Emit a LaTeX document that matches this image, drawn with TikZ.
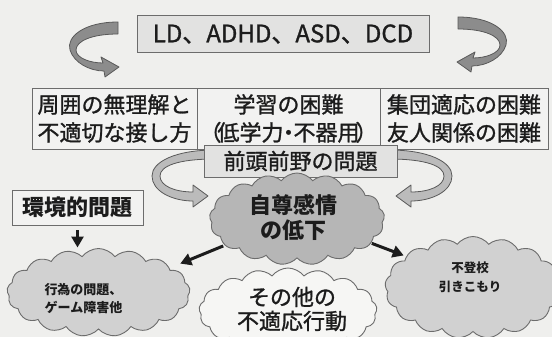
\documentclass[tikz,border=0pt]{standalone}
\usepackage{fontspec}
\setmainfont{Noto Sans CJK JP}
\newfontfamily\jpmid{Noto Sans CJK JP}[FakeBold=1.2]
\usetikzlibrary{arrows.meta,positioning,shapes.symbols}
\definecolor{paper}{HTML}{EFEFED}
\definecolor{boxfill}{HTML}{E2E2E1}
\definecolor{rowfill}{HTML}{F2F2F1}
\definecolor{ink}{HTML}{1C1C1C}
\definecolor{edge}{HTML}{6C6C6C}
\definecolor{cloudmid}{HTML}{B6B6B6}
\definecolor{cloudlight}{HTML}{D1D1D1}
\definecolor{cloudpale}{HTML}{F6F6F4}
\definecolor{ribbondark}{HTML}{8C8C8C}
\definecolor{ribbonlight}{HTML}{BBBBBB}

\begin{document}
\begin{tikzpicture}[x=1pt,y=-1pt]
\tikzset{every node/.style={font=\jpmid\fontsize{22}{28}\selectfont, text=ink, align=center, outer sep=0pt}}
\tikzset{plainbox/.style={draw=edge, line width=0.9pt, inner sep=0pt}}
\tikzset{rowbox/.style={plainbox, fill=rowfill, minimum height=61pt}}
\tikzset{puff/.style={cloud, cloud puffs=17, cloud puff arc=105, draw=edge, line width=0.9pt, inner sep=0pt}}
\tikzset{push/.style={draw=ink, line width=3pt, -{Triangle[length=11pt,width=12pt]}}}
\tikzset{ribbon/.style={draw=black!65, line width=0.8pt, line join=round}}
\tikzset{topribbon/.pic={\path[ribbon, fill=ribbondark]
(118,22) .. controls (84,22) and (66,37) .. (70,50) .. controls (74,63) and (90,71) .. (104,71)
-- (105,77) -- (119,67) -- (101,57) -- (103,63)
.. controls (90,63) and (76,58) .. (76,50) .. controls (76,41) and (92,34) .. (118,34) -- cycle;}}
\tikzset{lowribbon/.pic={\path[ribbon, fill=ribbonlight]
(215,150) .. controls (175,150) and (152,162) .. (152,176) .. controls (152,191) and (172,201) .. (193,201)
-- (193,207) -- (208,196) -- (193,185) -- (193,192)
.. controls (175,192) and (160,186) .. (160,176) .. controls (160,166) and (178,159) .. (215,159) -- cycle;}}

\clip (0,0) rectangle (552,337);
\fill[paper] (0,0) rectangle (552,337);

\node[plainbox, fill=boxfill, minimum width=292pt, minimum height=37pt, font=\jpmid\fontsize{24}{28}\selectfont] (ld) at (283,34) {LD、ADHD、ASD、DCD};
\pic at (0,0) {topribbon};
\pic[xscale=-1] at (576,-5) {topribbon};

\node[rowbox, minimum width=165pt] (surround) at (114.5,118.5) {周囲の無理解と\\不適切な接し方};
\node[rowbox, minimum width=183pt, right=0pt of surround] (study) {学習の困難\\（\hspace*{-4pt}低学力\hspace*{-6pt}・\hspace*{-6pt}不器用\hspace*{-4pt}）};
\node[rowbox, minimum width=168pt, right=0pt of study] (group) {集団適応の困難\\友人関係の困難};

\pic at (0,0) {lowribbon};
\pic[xscale=-1] at (604,0) {lowribbon};
\node[plainbox, fill=boxfill, minimum width=193pt, minimum height=32pt] (pfc) at (300.5,161) {前頭前野の問題};

\node[plainbox, fill=rowfill, minimum width=131pt, minimum height=35pt, font=\fontsize{22}{28}\selectfont\bfseries] (env) at (77.5,207.5) {環境的問題};

\node[puff, fill=cloudmid, minimum width=175pt, minimum height=92pt,
  label={[font=\fontsize{22}{25}\selectfont\bfseries, xshift=-4pt, yshift=2pt]center:{自尊感情\\の低下}}] (esteem) at (297,219) {};
\node[puff, fill=cloudlight, minimum width=183pt, minimum height=88pt,
  label={[font=\fontsize{13}{18}\selectfont\bfseries, xshift=-15pt, yshift=-6pt]center:{行為の問題、\\ゲーム障害他}}] (conduct) at (98.5,292.5) {};
\node[puff, fill=cloudpale, minimum width=178pt, minimum height=86pt,
  label={[font=\jpmid\fontsize{22}{24}\selectfont, xshift=4pt, yshift=2pt]center:{その他の\\不適応行動}}] (other) at (288,311) {};
\node[puff, fill=cloudlight, minimum width=176pt, minimum height=102pt,
  label={[font=\fontsize{12.5}{19}\selectfont\bfseries, xshift=-3pt, yshift=10pt]center:{不登校\\引きこもり}}] (school) at (473,287.5) {};

\draw[push, shorten <=5pt, shorten >=1pt] (env.south) -- (env.south |- conduct.north);
\draw[push, shorten <=2pt, shorten >=12pt] (esteem.200) -- (conduct.19);
\draw[push, shorten <=1pt, shorten >=3pt] (esteem.342) -- (school.155);
\end{tikzpicture}
\end{document}
